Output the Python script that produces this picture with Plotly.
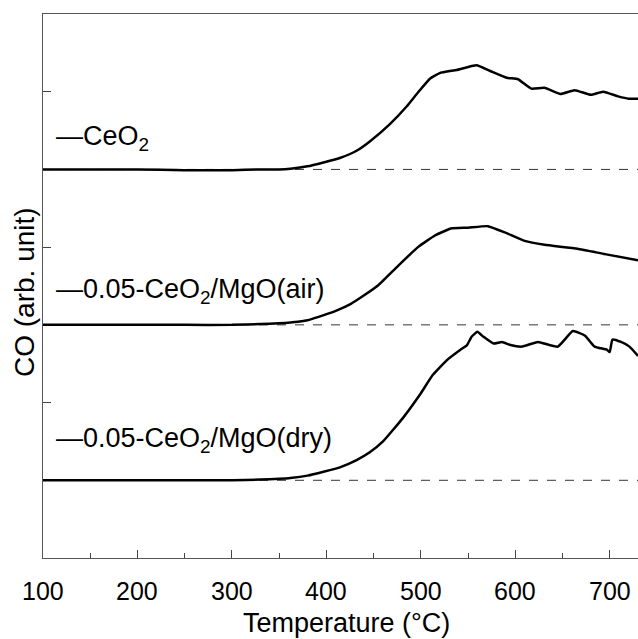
import plotly.graph_objects as go

# Temperature (°C) and CO signal (arb. unit), each series offset on its own baseline
ceo2_T = [100, 150, 200, 250, 300, 330, 350, 362, 380, 397, 415, 432, 446, 467, 485, 497, 510, 520,
          538, 559, 573, 591, 603, 617, 631, 648, 663, 680, 693, 709, 720, 730]
ceo2_y = [0.0, 0.0, 0.0, -0.01, -0.01, 0.0, 0.0, 0.01, 0.04, 0.09, 0.15, 0.24, 0.36, 0.58, 0.81, 0.99,
          1.17, 1.24, 1.28, 1.34, 1.27, 1.18, 1.16, 1.04, 1.05, 0.97, 1.02, 0.96, 1.00, 0.94, 0.91, 0.91]

air_T = [100, 150, 200, 250, 300, 330, 350, 370, 380, 391, 410, 426, 440, 455, 476, 497, 515, 532, 550,
         571, 589, 610, 631, 666, 695, 730]
air_y = [0.0, 0.0, 0.0, 0.0, 0.0, 0.01, 0.02, 0.04, 0.06, 0.10, 0.18, 0.27, 0.38, 0.51, 0.76, 1.00, 1.15,
         1.24, 1.25, 1.27, 1.19, 1.08, 1.03, 0.98, 0.91, 0.83]

dry_T = [100, 150, 200, 250, 300, 330, 350, 362, 380, 397, 415, 432, 446, 460, 481, 499, 513, 528, 542,
         549, 554, 560, 566, 577, 586, 595, 607, 624, 645, 661, 674, 684, 697, 700, 703, 712, 721, 730]
dry_y = [0.0, 0.0, 0.0, 0.0, 0.0, 0.01, 0.02, 0.03, 0.06, 0.11, 0.17, 0.26, 0.36, 0.50, 0.80, 1.10, 1.36,
         1.55, 1.68, 1.74, 1.85, 1.91, 1.85, 1.76, 1.78, 1.74, 1.72, 1.78, 1.72, 1.92, 1.86, 1.72, 1.68,
         1.65, 1.81, 1.78, 1.72, 1.60]

series_names = ["CeO<sub>2</sub>", "0.05-CeO<sub>2</sub>/MgO(air)", "0.05-CeO<sub>2</sub>/MgO(dry)"]
offsets = [5, 3, 1]
label_y = [5.40, 3.44, 1.52]
x_ticks = [100, 200, 300, 400, 500, 600, 700]
x_ticklabels = ["100", "200", "300", "400", "500", "600", "700"]
y_ticks = [2, 4, 6]
x_title = "Temperature (°C)"
y_title = "CO (arb. unit)"

FONT = "Liberation Sans, Arial, sans-serif"

fig = go.Figure()
for T, y, off in [(ceo2_T, ceo2_y, offsets[0]), (air_T, air_y, offsets[1]), (dry_T, dry_y, offsets[2])]:
    fig.add_trace(go.Scatter(x=[100, 730], y=[off, off], mode="lines",
                             line=dict(color="#333333", width=1, dash="dash"),
                             showlegend=False, hoverinfo="skip"))
    fig.add_trace(go.Scatter(x=T, y=[v + off for v in y], mode="lines",
                             line=dict(color="black", width=2.5, shape="spline", smoothing=0.4),
                             showlegend=False))

for name, ly in zip(series_names, label_y):
    fig.add_annotation(x=112, y=ly, xref="x", yref="y", text="—" + name, showarrow=False,
                       xanchor="left", yanchor="middle",
                       font=dict(family=FONT, size=27, color="black"))

# x tick labels placed a little further below the axis than Plotly's default
for tv, tt in zip(x_ticks, x_ticklabels):
    fig.add_annotation(x=tv, y=0, xref="x", yref="paper", text=tt, showarrow=False,
                       xanchor="center", yanchor="middle", yshift=-33,
                       font=dict(family=FONT, size=25, color="black"))

# axis titles
fig.add_annotation(x=0.51, y=0, xref="paper", yref="paper", text=x_title, showarrow=False,
                   xanchor="center", yanchor="middle", yshift=-65,
                   font=dict(family=FONT, size=27, color="black"))
fig.add_annotation(x=0, y=0.5, xref="paper", yref="paper", text=y_title, showarrow=False,
                   textangle=-90, xanchor="center", yanchor="middle", xshift=-19, yshift=-6,
                   font=dict(family=FONT, size=28, color="black"))

fig.update_layout(
    width=638, height=639,
    margin=dict(l=43, r=0, t=14, b=81),
    paper_bgcolor="white", plot_bgcolor="white",
    font=dict(family=FONT, size=25, color="black"),
    xaxis=dict(range=[100, 730], tickvals=x_ticks, showticklabels=False, ticks="inside", ticklen=8,
               tickcolor="#444444", tickwidth=1, showline=True, linecolor="#555555", linewidth=1,
               mirror=True, showgrid=False, zeroline=False,
               minor=dict(dtick=50, ticks="inside", ticklen=5, tickcolor="#444444", showgrid=False)),
    yaxis=dict(range=[0, 7], tickvals=y_ticks, showticklabels=False, ticks="inside", ticklen=8,
               tickcolor="#444444", showline=True, linecolor="#555555", linewidth=1,
               showgrid=False, zeroline=False),
)

fig.write_html("out.html")
